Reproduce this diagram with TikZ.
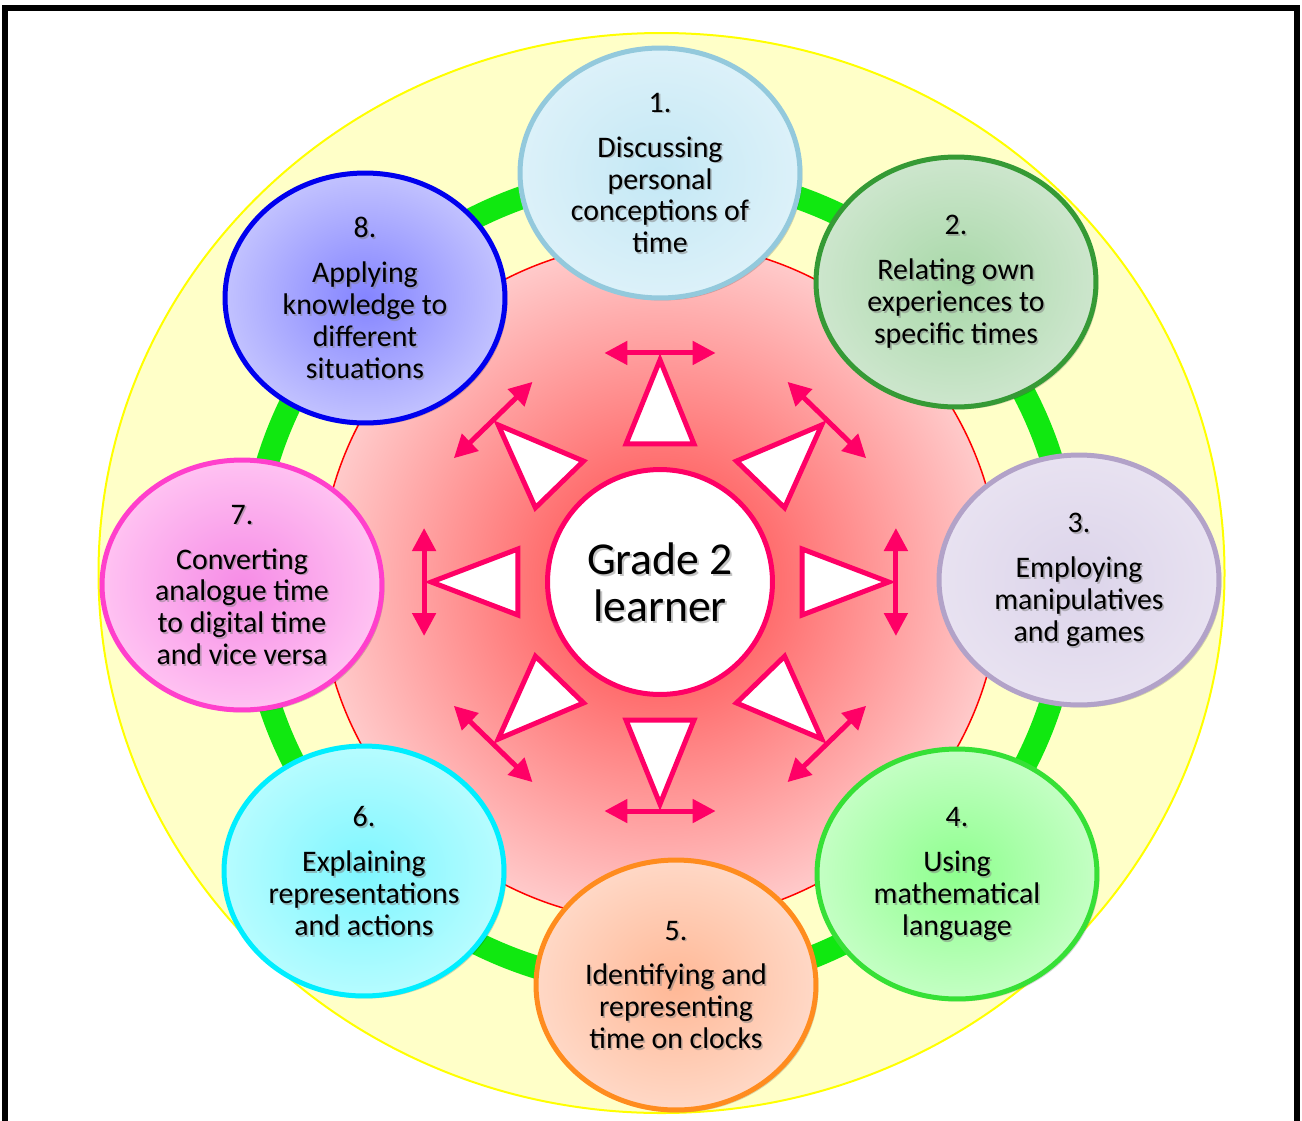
\documentclass[tikz,border=0pt]{standalone}
\usepackage{fontspec}
\setmainfont{Carlito}
\usetikzlibrary{arrows.meta,shadows,shapes.geometric}
\definecolor{crim}{HTML}{FF0066}
\definecolor{yfill}{HTML}{FFFFC8}
\definecolor{yline}{HTML}{FFFF00}
\definecolor{ring}{HTML}{10E810}
\definecolor{redin}{HTML}{FF4040}
\definecolor{redout}{HTML}{FFCACA}
\definecolor{aIn}{HTML}{C4E8F5}\definecolor{aOut}{HTML}{DCF1F9}\definecolor{aB}{HTML}{93C9DC}
\definecolor{bIn}{HTML}{A8D8A8}\definecolor{bOut}{HTML}{CDE6CD}\definecolor{bB}{HTML}{359A35}
\definecolor{cIn}{HTML}{DCD4EA}\definecolor{cOut}{HTML}{E8E2F1}\definecolor{cB}{HTML}{B2A2C8}
\definecolor{dIn}{HTML}{8EFF8E}\definecolor{dOut}{HTML}{C4FFC4}\definecolor{dB}{HTML}{36E036}
\definecolor{eIn}{HTML}{FFB896}\definecolor{eOut}{HTML}{FFD8C6}\definecolor{eB}{HTML}{FF8C1E}
\definecolor{fIn}{HTML}{7EF6FF}\definecolor{fOut}{HTML}{B6FCFF}\definecolor{fB}{HTML}{00EEFF}
\definecolor{gIn}{HTML}{F68CE6}\definecolor{gOut}{HTML}{FFC2F2}\definecolor{gB}{HTML}{FF3FCC}
\definecolor{hIn}{HTML}{8484FF}\definecolor{hOut}{HTML}{C2C2FF}\definecolor{hB}{HTML}{0000EE}
\tikzset{
  sat/.style n args={3}{shape=ellipse, minimum width=5.6cm, minimum height=5cm,
    inner sep=0pt, line width=0.1cm, draw=#3, shading=radial, inner color=#1, outer color=#2,
    drop shadow={shadow xshift=0.05cm, shadow yshift=-0.05cm, opacity=0.16, fill=black}},
  txt/.style={align=center, font=\fontsize{17}{18.2}\selectfont, text=black, inner sep=0pt},
  shtxt/.style={txt, text=black!50, opacity=0.5},
  bigtxt/.style={align=center, font=\fontsize{26}{26.8}\selectfont, text=black, inner sep=0pt},
  tri/.style={draw=crim, fill=white, line width=0.1cm, line join=miter},
  dbl/.style={draw=crim, line width=0.1cm,
    {Triangle[length=0.46cm,width=0.46cm]}-{Triangle[length=0.46cm,width=0.46cm]}},
}
\newcommand\sattext[2]{%
  \node[shtxt] at ([shift={(1.6,1.6)}]#1.center) {#2};
  \node[txt] at (#1.center) {#2};}
\begin{document}
\begin{tikzpicture}[x=0.02cm,y=-0.02cm]
\useasboundingbox (0,0) rectangle (1302,1120);
% frame
\draw[line width=0.13cm] (5,1140) -- (5,8) -- (1297,8) -- (1297,1140);
% yellow disc
\draw[yline, fill=yfill, line width=0.04cm] (661.5,573) ellipse [x radius=563, y radius=540];
% green ring
\draw[ring, line width=0.46cm] (660,580) ellipse [x radius=410, y radius=406];
% red disc
\shade[inner color=redin, outer color=redout] (660,582) circle [radius=340];
\draw[red, line width=0.03cm] (660,582) circle [radius=340];
% centre
\node[circle, draw=crim, fill=white, line width=0.1cm, minimum size=4.5cm, inner sep=0pt] (C) at (660,582) {};
\node[bigtxt, text=black!45, opacity=0.5] at ([shift={(2,2)}]C.center) {Grade 2\\learner};
\node[bigtxt] (CT) at (C.center) {Grade 2\\learner};
% triangles and double arrows
\foreach \a in {0,45,...,315}{
  \begin{scope}[shift={(660,582)}, xscale=1.03, rotate=\a]
    \coordinate (p\a) at (222,0);
    \coordinate (q\a) at (138,33);
    \coordinate (r\a) at (138,-33);
    \coordinate (s\a) at (229,-54);
    \coordinate (t\a) at (229,54);
    \draw[tri] (p\a) -- (q\a) -- (r\a) -- cycle;
    \draw[dbl] (s\a) -- (t\a);
  \end{scope}
}
% satellites
\node[sat={aIn}{aOut}{aB}] (e1) at (660,173) {};
\node[sat={bIn}{bOut}{bB}] (e2) at (956,282) {};
\node[sat={cIn}{cOut}{cB}] (e3) at (1079,580) {};
\node[sat={dIn}{dOut}{dB}] (e4) at (957,874) {};
\node[sat={eIn}{eOut}{eB}] (e5) at (676,985) {};
\node[sat={fIn}{fOut}{fB}] (e6) at (364,871) {};
\node[sat={gIn}{gOut}{gB}] (e7) at (242,585) {};
\node[sat={hIn}{hOut}{hB}] (e8) at (365,298) {};
\sattext{e1}{1.\\[0.26cm]Discussing\\personal\\conceptions of\\time}
\sattext{e2}{2.\\[0.26cm]Relating own\\experiences to\\specific times}
\sattext{e3}{3.\\[0.26cm]Employing\\manipulatives\\and games}
\sattext{e4}{4.\\[0.26cm]Using\\mathematical\\language}
\sattext{e5}{5.\\[0.26cm]Identifying and\\representing\\time on clocks}
\sattext{e6}{6.\\[0.26cm]Explaining\\representations\\and actions}
\sattext{e7}{7.\\[0.26cm]Converting\\analogue time\\to digital time\\and vice versa}
\sattext{e8}{8.\\[0.26cm]Applying\\knowledge to\\different\\situations}
\end{tikzpicture}
\end{document}
